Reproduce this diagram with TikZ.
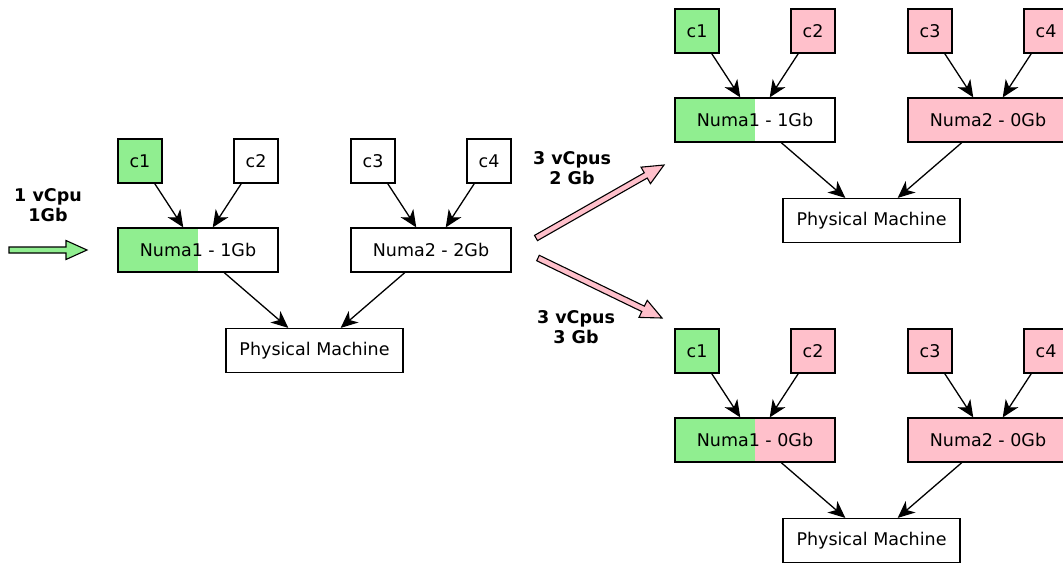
\documentclass[tikz,border=0pt]{standalone}
\usepackage{fontspec}
\setmainfont{DejaVu Sans}
\usetikzlibrary{arrows.meta,calc}
\definecolor{lgreen}{HTML}{90EE90}
\definecolor{lpink}{HTML}{FFC0CB}
\tikzset{
  base/.style={draw=black, line width=1.2pt, inner sep=0pt, minimum height=44pt,
    font=\fontsize{17.5}{20}\selectfont},
  cpu/.style={base, minimum width=44pt},
  numa/.style={base, minimum width=160pt},
  pm/.style={base, minimum width=177pt, fill=white},
  halfgreen/.style={path picture={
     \fill[lgreen] (path picture bounding box.south west) rectangle (path picture bounding box.north);}},
  conn/.style={line width=1.3pt, -{Stealth[length=17pt,width=15pt,inset=5pt]}},
  lbl/.style={align=center, font=\fontsize{17.5}{20}\selectfont\bfseries},
  fat/.style={line width=1.1pt, line join=miter},
}
\newcommand{\fatarrow}[3]{%
  \coordinate (#1#2h) at ($(#2)!21pt!(#1)$);
  \draw[fat, fill=#3] ($(#1)!3pt!90:(#2)$) -- ($(#1#2h)!3pt!-90:(#1)$) -- ($(#1#2h)!9.5pt!-90:(#1)$)
    -- (#2) -- ($(#1#2h)!9.5pt!90:(#1)$) -- ($(#1#2h)!3pt!90:(#1)$) -- ($(#1)!3pt!-90:(#2)$) -- cycle;}
\newcommand{\machine}[9]{% prefix, dx, dy, fill c1..c4, numa1 style, numa1 text, numa2 fill
  \begin{scope}[shift={(#2,#3)}]
    \node[cpu, #4] (#1c1) at (140,161) {c1};
    \node[cpu, #5] (#1c2) at (256,161) {c2};
    \node[cpu, #6] (#1c3) at (373,161) {c3};
    \node[cpu, #6] (#1c4) at (489,161) {c4};
    \node[numa, #7] (#1n1) at (198,250) {#8};
    \node[numa, #9] (#1n2) at (431,250) {\numatwotext};
    \node[pm] (#1pm) at (314.5,350.5) {Physical Machine};
  \end{scope}
  \draw[conn] (#1c1) -- (#1n1);
  \draw[conn] (#1c2) -- (#1n1);
  \draw[conn] (#1c3) -- (#1n2);
  \draw[conn] (#1c4) -- (#1n2);
  \draw[conn] (#1n1) -- (#1pm);
  \draw[conn] (#1n2) -- (#1pm);}
\begin{document}
\begin{tikzpicture}[x=1pt,y=-1pt]
  \useasboundingbox (0,0) rectangle (1063,563);
  \clip (0,0) rectangle (1063,563);
  \fill[white] (0,0) rectangle (1063,563);
  % left machine
  \def\numatwotext{Numa2 - 2Gb}
  \machine{L}{0}{0}{fill=lgreen}{fill=white}{fill=white}{fill=white,halfgreen}{Numa1 - 1Gb}{fill=white}
  % top right
  \def\numatwotext{Numa2 - 0Gb}
  \machine{T}{557}{-130}{fill=lgreen}{fill=lpink}{fill=lpink}{fill=white,halfgreen}{Numa1 - 1Gb}{fill=lpink}
  % bottom right
  \machine{B}{557}{190}{fill=lgreen}{fill=lpink}{fill=lpink}{fill=lpink,halfgreen}{Numa1 - 0Gb}{fill=lpink}
  % input arrow and labels
  \coordinate (g0) at (9,250);
  \coordinate (g1) at (87,250);
  \fatarrow{g0}{g1}{lgreen}
  \node[lbl] (l1) at (48,205) {1 vCpu\\1Gb};
  \coordinate (p0) at (536,238);
  \coordinate (p1) at (664,165);
  \fatarrow{p0}{p1}{lpink}
  \coordinate (q0) at (538,258);
  \coordinate (q1) at (662,318);
  \fatarrow{q0}{q1}{lpink}
  \node[lbl] (l2) at (572,168) {3 vCpus\\2 Gb};
  \node[lbl] (l3) at (576,327) {3 vCpus\\3 Gb};
\end{tikzpicture}
\end{document}
